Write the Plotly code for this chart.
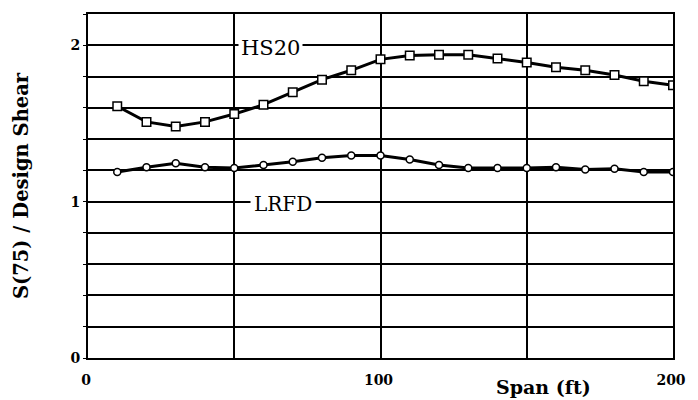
import plotly.graph_objects as go

span = [10, 20, 30, 40, 50, 60, 70, 80, 90, 100,
        110, 120, 130, 140, 150, 160, 170, 180, 190, 200]
hs20 = [1.61, 1.51, 1.48, 1.51, 1.56, 1.62, 1.70, 1.78, 1.84, 1.91,
        1.935, 1.94, 1.94, 1.915, 1.89, 1.86, 1.84, 1.81, 1.77, 1.745]
lrfd = [1.19, 1.22, 1.245, 1.22, 1.215, 1.235, 1.255, 1.28, 1.295, 1.295,
        1.27, 1.235, 1.215, 1.215, 1.215, 1.22, 1.205, 1.21, 1.19, 1.19]

x_ticks = [0, 100, 200]
y_ticks = [0, 1, 2]

serif = "DejaVu Serif"

W, H = 698, 400
L, R, T, B = 88, 15, 13, 39

fig = go.Figure()
fig.add_trace(go.Scatter(
    x=span, y=hs20, mode="lines+markers", name="HS20",
    line=dict(color="black", width=3),
    marker=dict(symbol="square", size=8.5, color="white",
                line=dict(color="black", width=1.5)),
))
fig.add_trace(go.Scatter(
    x=span, y=lrfd, mode="lines+markers", name="LRFD",
    line=dict(color="black", width=3),
    marker=dict(symbol="circle", size=7, color="white",
                line=dict(color="black", width=1.5)),
))

plot_w = W - L - R
plot_h = H - T - B

fig.update_layout(
    width=W, height=H,
    margin=dict(l=L, r=R, t=T, b=B),
    paper_bgcolor="white", plot_bgcolor="white",
    showlegend=False,
    font=dict(family=serif, color="black"),
    xaxis=dict(
        range=[0, 200], tickvals=x_ticks, ticktext=[str(v) for v in x_ticks],
        showgrid=True, gridcolor="black", gridwidth=1.5,
        minor=dict(dtick=50, showgrid=True, gridcolor="black", gridwidth=1.5),
        showline=True, linecolor="black", linewidth=2, mirror=True,
        ticks="", ticklabelstandoff=8, ticklabelshift=-2,
        tickfont=dict(family=serif, size=14, color="black", weight="bold"),
        zeroline=False,
    ),
    yaxis=dict(
        range=[0, 2.2], tickvals=y_ticks, ticktext=[str(v) for v in y_ticks],
        showgrid=True, gridcolor="black", gridwidth=2,
        minor=dict(dtick=0.2, showgrid=True, gridcolor="black", gridwidth=2,
                   ticks="outside", ticklen=3, tickcolor="black"),
        showline=True, linecolor="black", linewidth=2, mirror=True,
        ticks="outside", ticklen=3, tickcolor="black",
        tickfont=dict(family=serif, size=14, color="black", weight="bold"),
        zeroline=False,
        title=dict(text="S(75) / Design Shear", standoff=37,
                   font=dict(family=serif, size=19.5, color="black", weight="bold")),
    ),
    annotations=[
        dict(x=62.5, y=1.98, xref="x", yref="y", text="HS20", showarrow=False,
             font=dict(family=serif, size=21, color="black"),
             bgcolor="white", borderpad=2),
        dict(x=66.5, y=0.985, xref="x", yref="y", text="LRFD", showarrow=False,
             font=dict(family=serif, size=20, color="black"),
             bgcolor="white", borderpad=3),
        dict(x=(551 - L) / plot_w, y=(H - B - 390) / plot_h,
             xref="paper", yref="paper", xanchor="center", yanchor="middle",
             text="Span (ft)", showarrow=False,
             font=dict(family=serif, size=19, color="black", weight="bold")),
    ],
)

# remove the default page margin so the figure sits at the window's top-left
fig.write_html(
    "out.html",
    config={"displayModeBar": False},
    post_script="document.body.style.margin='0';document.body.style.overflow='hidden';",
)
